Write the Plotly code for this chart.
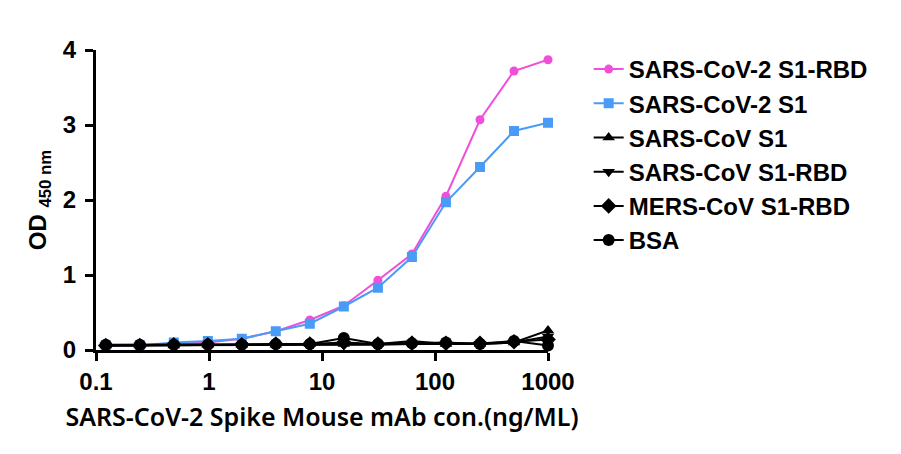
import plotly.graph_objects as go

conc = [0.122, 0.244, 0.488, 0.977, 1.95, 3.9, 7.8, 15.6, 31.25, 62.5, 125, 250, 500, 1000]

sars2_rbd = [0.06, 0.06, 0.08, 0.10, 0.15, 0.25, 0.40, 0.59, 0.93, 1.28, 2.05, 3.07, 3.72, 3.87]
sars2_s1 = [0.06, 0.06, 0.10, 0.12, 0.15, 0.25, 0.35, 0.58, 0.83, 1.24, 1.97, 2.44, 2.92, 3.03]
sars_s1 = [0.06, 0.06, 0.06, 0.07, 0.07, 0.07, 0.08, 0.08, 0.08, 0.12, 0.08, 0.08, 0.10, 0.26]
sars_rbd = [0.06, 0.06, 0.06, 0.06, 0.07, 0.07, 0.07, 0.07, 0.07, 0.08, 0.08, 0.08, 0.10, 0.18]
mers_rbd = [0.06, 0.06, 0.07, 0.07, 0.07, 0.08, 0.08, 0.10, 0.08, 0.09, 0.09, 0.09, 0.11, 0.14]
bsa = [0.07, 0.07, 0.07, 0.07, 0.07, 0.08, 0.08, 0.16, 0.08, 0.09, 0.10, 0.08, 0.12, 0.06]

names = ["SARS-CoV-2 S1-RBD", "SARS-CoV-2 S1", "SARS-CoV S1", "SARS-CoV S1-RBD", "MERS-CoV S1-RBD", "BSA"]
series = [sars2_rbd, sars2_s1, sars_s1, sars_rbd, mers_rbd, bsa]
colors = ["#F04FD9", "#4A9BF5", "#000000", "#000000", "#000000", "#000000"]
symbols = ["circle", "square", "triangle-up", "triangle-down", "diamond", "circle"]
sizes = [9, 10, 11, 11, 12, 12]

xticks = [0.1, 1, 10, 100, 1000]
xtick_labels = ["0.1", "1", "10", "100", "1000"]
yticks = [0, 1, 2, 3, 4]

fig = go.Figure()
for i, (name, ys, c, s, sz) in enumerate(zip(names, series, colors, symbols, sizes)):
    fig.add_trace(go.Scatter(
        x=conc, y=ys, name=name, mode="lines+markers",
        line=dict(color=c, width=2),
        marker=dict(color=c, symbol=s, size=sz),
        cliponaxis=False, legendgroup="g%d" % i,
    ))

tickfont = dict(family="Liberation Sans, Arial", size=24, color="black", weight="bold")

fig.update_layout(
    width=901, height=454,
    margin=dict(l=96, r=353, t=50, b=104),
    plot_bgcolor="white", paper_bgcolor="white",
    showlegend=True,
    legend=dict(
        x=1.09, y=1.01, xanchor="left", yanchor="top",
        font=dict(family="Liberation Sans, Arial", size=24, color="black", weight="bold"),
        itemwidth=30, tracegroupgap=0, bgcolor="rgba(0,0,0,0)",
        maxheight=400,
    ),
    xaxis=dict(
        type="log", range=[-1, 3],
        tickvals=xticks, ticktext=xtick_labels,
        ticks="outside", ticklen=8, tickwidth=3, tickcolor="black",
        showline=True, linewidth=3, linecolor="black",
        showgrid=False, zeroline=False,
        tickfont=tickfont,
        title=dict(text="SARS-CoV-2 Spike Mouse mAb con.(ng/ML)",
                   font=dict(family="Noto Sans, Open Sans", size=25, color="black", weight=600),
                   standoff=15),
    ),
    yaxis=dict(
        range=[0, 4],
        tickvals=yticks,
        ticks="outside", ticklen=8, tickwidth=3, tickcolor="black",
        showline=True, linewidth=3, linecolor="black",
        showgrid=False, zeroline=False,
        tickfont=tickfont, ticklabelstandoff=4,
        title=dict(text="OD <sub>450 nm</sub>",
                   font=dict(family="Liberation Sans, Arial", size=24, color="black", weight="bold"),
                   standoff=10),
    ),
)

fig.write_html("out.html")
